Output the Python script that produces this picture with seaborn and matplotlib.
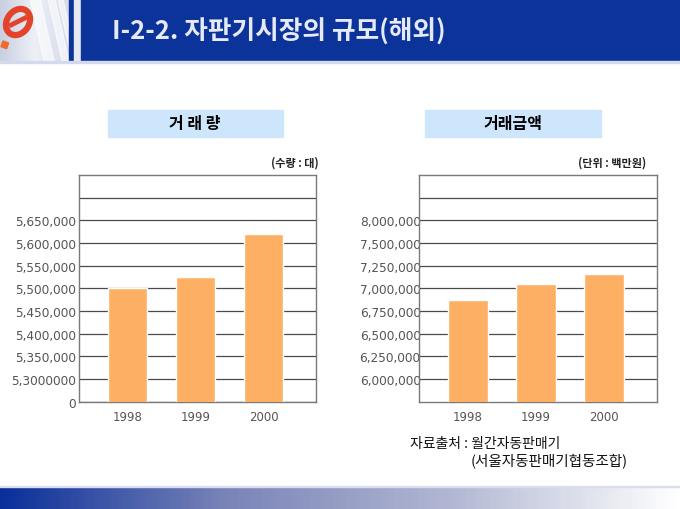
import matplotlib.pyplot as plt
import matplotlib.patches as mpatches
import numpy as np
import pandas as pd
import seaborn as sns
from matplotlib.colors import LinearSegmentedColormap

# Data
years = ["1998", "1999", "2000"]
volume = [5500000, 5525000, 5620000]
amount = [6870000, 7045000, 7155000]

# The slide's own (not quite linear) axis labels on an evenly spaced grid
volume_ticks = [5250000, 5300000, 5350000, 5400000, 5450000,
                5500000, 5550000, 5600000, 5650000, 5700000]
volume_labels = ["0", "5,3000000", "5,350,000", "5,400,000", "5,450,000",
                 "5,500,000", "5,550,000", "5,600,000", "5,650,000", ""]
amount_ticks = [6000000, 6250000, 6500000, 6750000, 7000000,
                7250000, 7500000, 7750000, 8000000]
amount_labels = ["6,000,000", "6,250,000", "6,500,000", "6,750,000", "7,000,000",
                 "7,250,000", "7,500,000", "8,000,000", ""]

slide_title = "I-2-2. 자판기시장의 규모(해외)"
left_title = "거 래 량"
right_title = "거래금액"
left_unit = "(수량 : 대)"
right_unit = "(단위 : 백만원)"
source_1 = "자료출처 : 월간자동판매기"
source_2 = "(서울자동판매기협동조합)"

bar_color = "#FDB064"
band_blue = "#0B3399"
box_blue = "#CDE6FB"

sns.set_theme(style="white")
plt.rcParams["font.family"] = ["DejaVu Sans", "Noto Sans CJK KR"]
KR = ["Noto Sans CJK KR", "DejaVu Sans"]

W, H = 680, 510
fig = plt.figure(figsize=(W / 100, H / 100), dpi=100)
fig.patch.set_facecolor("white")

# Background layer in pixel coordinates
bg = fig.add_axes([0, 0, 1, 1], zorder=0)
bg.set_xlim(0, W)
bg.set_ylim(H, 0)
bg.axis("off")

# logo block
logo_cmap = LinearSegmentedColormap.from_list("logo", ["#C9CFE2", "#EEF0F6", "#D6DBEA"])
bg.imshow(np.linspace(0, 1, 100).reshape(1, -1), cmap=logo_cmap, aspect="auto",
          extent=(0, 69, 62, 0), zorder=1)
for x0, w in [(30, 10), (48, 7), (58, 5)]:
    bg.add_patch(mpatches.Polygon([(x0, 0), (x0 + w, 0), (x0 + w + 14, 62), (x0 + 14, 62)],
                                  closed=True, color="white", alpha=0.6, zorder=2))
bg.add_patch(mpatches.Ellipse((18, 23), 22, 28, angle=35, fill=False,
                              edgecolor="#E2432A", lw=4.5, zorder=3))
bg.plot([9, 27], [27, 18], color="#E2432A", lw=3.5, zorder=3, solid_capstyle="butt")
bg.add_patch(mpatches.Rectangle((3, 42), 6, 6, angle=20, color="#EE6A2C", zorder=3))

# header band
bg.add_patch(mpatches.Rectangle((69, 0), 5, 62, color=band_blue, zorder=2))
bg.add_patch(mpatches.Rectangle((74, 0), 7, 62, color="#E6EAF3", zorder=2))
bg.add_patch(mpatches.Rectangle((81, 0), W - 81, 62, color=band_blue, zorder=2))
bg.add_patch(mpatches.Rectangle((0, 62), W, 2, color="#D3DAEC", zorder=2))
bg.text(112, 32, slide_title, color="#E6E9F8", fontsize=18.5, fontweight="bold",
        family=KR, va="center", ha="left", zorder=4)

# bottom gradient band
foot_cmap = LinearSegmentedColormap.from_list("foot", ["#0A2F9A", "#7A84B8", "#B2B8D3", "#FFFFFF"])
bg.imshow(np.linspace(0, 1, 200).reshape(1, -1), cmap=foot_cmap, aspect="auto",
          extent=(0, W, H, 488), zorder=1)
bg.add_patch(mpatches.Rectangle((0, 487), W, 1.2, color="#D8DEEE", zorder=2))

# chart title boxes and units
bg.add_patch(mpatches.Rectangle((108, 111), 175, 27, color=box_blue, zorder=2))
bg.add_patch(mpatches.Rectangle((425, 111), 176, 27, color=box_blue, zorder=2))
bg.text(195, 124.5, left_title, fontsize=11.5, fontweight="bold", family=KR,
        ha="center", va="center", color="black", zorder=4)
bg.text(513, 124.5, right_title, fontsize=11.5, fontweight="bold", family=KR,
        ha="center", va="center", color="black", zorder=4)
bg.text(319, 163, left_unit, fontsize=8, fontweight="bold", family=KR,
        ha="right", va="center", color="#222222", zorder=4)
bg.text(646, 163, right_unit, fontsize=8, fontweight="bold", family=KR,
        ha="right", va="center", color="#222222", zorder=4)

# source note
bg.text(410, 444, source_1, fontsize=10, fontweight="medium", family=KR,
        ha="left", va="center", color="#111111", zorder=4)
bg.text(471, 461, source_2, fontsize=10.5, fontweight="medium", family=KR,
        ha="left", va="center", color="#111111", zorder=4)


def draw_chart(rect, values, ticks, labels, ylim, label_pad):
    ax = fig.add_axes(rect, zorder=2)
    ax.set_facecolor("white")
    df = pd.DataFrame({"year": years, "value": values})
    sns.barplot(data=df, x="year", y="value", color=bar_color, width=0.58,
                saturation=1, errorbar=None, ax=ax, zorder=3)
    ax.set_xlim(-0.715, 2.77)
    ax.set_ylim(*ylim)
    ax.set_yticks(ticks)
    ax.set_yticklabels(labels)
    ax.set_xlabel("")
    ax.set_ylabel("")
    ax.set_axisbelow(True)
    ax.grid(axis="y", color="#4A4A4A", lw=0.9)
    ax.grid(axis="x", visible=False)
    ax.tick_params(axis="y", length=0, pad=label_pad, labelsize=8.7, labelcolor="#555555")
    ax.tick_params(axis="x", length=0, pad=6, labelsize=8.5, labelcolor="#555555")
    for sp in ax.spines.values():
        sp.set_visible(True)
        sp.set_color("#7A7A7A")
        sp.set_linewidth(1)
    return ax


axes_bottom = 1 - 402.7 / H
axes_height = 226.7 / H
draw_chart([78.7 / W, axes_bottom, 237.3 / W, axes_height], volume,
           volume_ticks, volume_labels, (5250000, 5750000), 2)
draw_chart([419.3 / W, axes_bottom, 237.3 / W, axes_height], amount,
           amount_ticks, amount_labels, (5750000, 8250000), -1)

fig.savefig("out.png", dpi=100)
